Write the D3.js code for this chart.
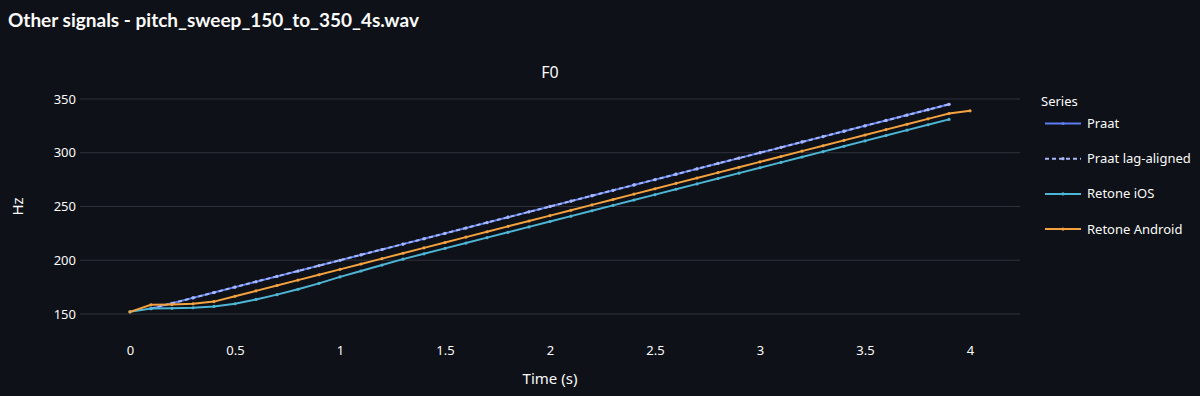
<!DOCTYPE html>
<html>
<head>
<meta charset="utf-8">
<script src="https://cdn.jsdelivr.net/npm/d3@7"></script>
<style>
  body { margin: 0; background: #0e1117; }
  #chart svg { display: block; }
</style>
</head>
<body>
<div id="chart"></div>
<script>
// time stamps (s), one every 0.1 s
var times = [0, 0.1, 0.2, 0.3, 0.4, 0.5, 0.6, 0.7, 0.8, 0.9,
             1.0, 1.1, 1.2, 1.3, 1.4, 1.5, 1.6, 1.7, 1.8, 1.9,
             2.0, 2.1, 2.2, 2.3, 2.4, 2.5, 2.6, 2.7, 2.8, 2.9,
             3.0, 3.1, 3.2, 3.3, 3.4, 3.5, 3.6, 3.7, 3.8, 3.9, 4.0];

// F0 in Hz (null = no estimate)
var praat = [null, 155, 160, 165, 170, 175, 180, 185, 190, 195,
             200, 205, 210, 215, 220, 225, 230, 235, 240, 245,
             250, 255, 260, 265, 270, 275, 280, 285, 290, 295,
             300, 305, 310, 315, 320, 325, 330, 335, 340, 345, null];
var praatLag = [null, 155, 160, 165, 170, 175, 180, 185, 190, 195,
             200, 205, 210, 215, 220, 225, 230, 235, 240, 245,
             250, 255, 260, 265, 270, 275, 280, 285, 290, 295,
             300, 305, 310, 315, 320, 325, 330, 335, 340, 345, null];
var retoneIOS = [152, 155, 155.3, 155.8, 157, 159.5, 163.5, 168, 173, 178.5,
             184.5, 190, 195.5, 201, 206, 211, 216, 221, 226, 231,
             236, 241, 246, 251, 256, 261, 266, 271, 276, 281,
             286, 291, 296, 301, 306, 311, 316, 321, 326, 331, null];
var retoneAndroid = [152, 158.5, 158.8, 159.5, 161.5, 166.5, 171.5, 176.5, 181.5, 186.5,
             191.5, 196.5, 201.5, 206.5, 211.5, 216.5, 221.5, 226.5, 231.5, 236.5,
             241.5, 246.5, 251.5, 256.5, 261.5, 266.5, 271.5, 276.5, 281.5, 286.5,
             291.5, 296.5, 301.5, 306.5, 311.5, 316.5, 321.5, 326.5, 331.5, 336.5, 339];

var seriesNames = ['Praat', 'Praat lag-aligned', 'Retone iOS', 'Retone Android'];
var seriesValues = [praat, praatLag, retoneIOS, retoneAndroid];
var xTicks = [0, 0.5, 1, 1.5, 2, 2.5, 3, 3.5, 4];
var yTicks = [150, 200, 250, 300, 350];

var colors = ['#5b7ef2', '#a9b6fb', '#4db6d6', '#f4a23f'];
var dashes = [null, '4,3', null, null];

var width = 1200, height = 396;
var margin = {left: 80, right: 180, top: 88, bottom: 66};

var svg = d3.select('#chart').append('svg')
    .attr('width', width)
    .attr('height', height)
    .style('background', '#0e1117');

// page heading
svg.append('text')
    .attr('x', 8).attr('y', 27)
    .attr('fill', '#fafafa')
    .attr('font-family', 'Lato, "Noto Sans", sans-serif')
    .attr('font-weight', 700)
    .attr('font-size', 19)
    .text('Other signals - pitch_sweep_150_to_350_4s.wav');

var x = d3.scaleLinear()
    .domain([-0.238, 4.238])
    .range([margin.left, width - margin.right]);
var y = d3.scaleLinear()
    .domain([135.1, 360.2])
    .range([height - margin.bottom, margin.top]);

var tickFont = '"Noto Sans", sans-serif';

// horizontal grid
svg.append('g').selectAll('line')
    .data(yTicks).enter().append('line')
    .attr('x1', margin.left).attr('x2', width - margin.right)
    .attr('y1', function(d) { return y(d); })
    .attr('y2', function(d) { return y(d); })
    .attr('stroke', '#31333c')
    .attr('stroke-width', 1);

var yAxis = svg.append('g')
    .attr('transform', 'translate(' + (margin.left - 4) + ',0)')
    .call(d3.axisLeft(y).tickValues(yTicks).tickSize(0).tickPadding(0));
yAxis.select('.domain').remove();
yAxis.selectAll('text')
    .attr('fill', '#fafafa')
    .attr('font-family', tickFont)
    .attr('font-size', 13);

var xAxis = svg.append('g')
    .attr('transform', 'translate(0,' + (height - margin.bottom + 10) + ')')
    .call(d3.axisBottom(x).tickValues(xTicks).tickSize(0).tickPadding(6).tickFormat(d3.format('')));
xAxis.select('.domain').remove();
xAxis.selectAll('text')
    .attr('fill', '#fafafa')
    .attr('font-family', tickFont)
    .attr('font-size', 13);

// axis titles
svg.append('text')
    .attr('x', (margin.left + width - margin.right) / 2)
    .attr('y', 384)
    .attr('text-anchor', 'middle')
    .attr('fill', '#fafafa')
    .attr('font-family', tickFont)
    .attr('font-size', 15)
    .text('Time (s)');
svg.append('text')
    .attr('transform', 'translate(23,' + y(250) + ') rotate(-90)')
    .attr('text-anchor', 'middle')
    .attr('fill', '#fafafa')
    .attr('font-family', tickFont)
    .attr('font-size', 15)
    .text('Hz');

// chart title
svg.append('text')
    .attr('x', (margin.left + width - margin.right) / 2)
    .attr('y', 78)
    .attr('text-anchor', 'middle')
    .attr('fill', '#fafafa')
    .attr('font-family', tickFont)
    .attr('font-size', 16)
    .text('F0');

var line = d3.line()
    .defined(function(d) { return d[1] != null; })
    .x(function(d) { return x(d[0]); })
    .y(function(d) { return y(d[1]); });

var plot = svg.append('g');
seriesValues.forEach(function(vals, i) {
    var pts = times.map(function(t, j) { return [t, vals[j]]; });
    plot.append('path')
        .datum(pts)
        .attr('d', line)
        .attr('fill', 'none')
        .attr('stroke', colors[i])
        .attr('stroke-width', 2)
        .attr('stroke-dasharray', dashes[i]);
    plot.append('g').selectAll('circle')
        .data(pts.filter(function(d) { return d[1] != null; }))
        .enter().append('circle')
        .attr('cx', function(d) { return x(d[0]); })
        .attr('cy', function(d) { return y(d[1]); })
        .attr('r', 1.6)
        .attr('fill', colors[i]);
});

// legend
var legend = svg.append('g').attr('transform', 'translate(1041,0)');
legend.append('text')
    .attr('x', 0).attr('y', 106)
    .attr('fill', '#fafafa')
    .attr('font-family', tickFont)
    .attr('font-size', 13)
    .text('Series');
seriesNames.forEach(function(name, i) {
    var ly = 123.5 + i * 35.2;
    legend.append('line')
        .attr('x1', 4).attr('x2', 40)
        .attr('y1', ly).attr('y2', ly)
        .attr('stroke', colors[i])
        .attr('stroke-width', 2)
        .attr('stroke-dasharray', dashes[i]);
    legend.append('circle')
        .attr('cx', 22).attr('cy', ly).attr('r', 1.6)
        .attr('fill', colors[i]);
    legend.append('text')
        .attr('x', 46).attr('y', ly + 4.5)
        .attr('fill', '#fafafa')
        .attr('font-family', tickFont)
        .attr('font-size', 13)
        .text(name);
});
</script>
</body>
</html>
